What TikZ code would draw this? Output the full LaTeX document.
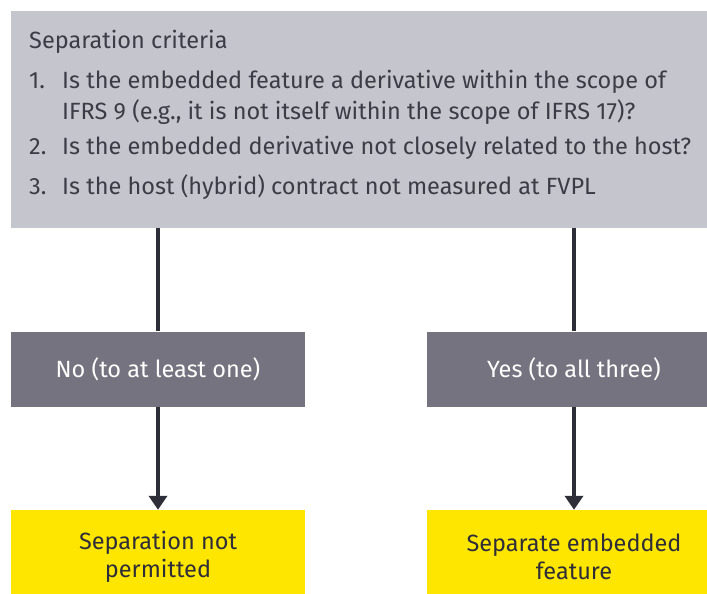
\documentclass[tikz,border=0pt]{standalone}
\usepackage{fontspec}
\setmainfont{Fira Sans}
\usetikzlibrary{arrows.meta}

\definecolor{critgray}{HTML}{C5C5CD}
\definecolor{answergray}{HTML}{74737F}
\definecolor{eyyellow}{HTML}{FFE600}
\definecolor{inkdark}{HTML}{2E2E38}
\definecolor{textdark}{HTML}{3C3C46}

\begin{document}
\begin{tikzpicture}[x=1pt,y=1pt,
  box/.style={minimum width=294pt,minimum height=75pt,inner sep=0pt,align=center,
    font=\fontsize{23.5}{28}\selectfont},
  answer/.style={box,fill=answergray,text=white},
  result/.style={box,fill=eyyellow,text=inkdark,minimum height=94pt},
  link/.style={draw=inkdark,line width=3.5pt},
  tip/.style={-{Triangle[width=18pt,length=14pt]}}]
\useasboundingbox (0,0) rectangle (707,-594);
\clip (0,0) rectangle (707,-594);
\node [fill=critgray,minimum width=710pt,minimum height=217pt,inner sep=0pt,anchor=north west] (crit) at (11,-11) {};
\node [anchor=north west,inner sep=0pt,align=left,text=textdark,font=\fontsize{23.5}{31}\selectfont] (list) at (29,-30) {Separation criteria\\[9pt]
\makebox[33pt][l]{1.}Is the embedded feature a derivative within the scope of\\
\hspace*{33pt}IFRS 9 (e.g., it is not itself within the scope of IFRS 17)?\\[4pt]
\makebox[33pt][l]{2.}Is the embedded derivative not closely related to the host?\\[9pt]
\makebox[33pt][l]{3.}Is the host (hybrid) contract not measured at FVPL};
\node [answer] (no) at (158,-369) {No (to at least one)};
\node [answer,right of=no,node distance=416pt] (yes) {Yes (to all three)};
\node [result,below of=no,node distance=188pt] (stop) {Separation not\\permitted};
\node [result,below of=yes,node distance=188pt] (split) {Separate embedded\\feature};
\draw [link] (crit.south -| no) -- (no);
\draw [link] (crit.south -| yes) -- (yes);
\draw [link,tip] (no) -- (stop);
\draw [link,tip] (yes) -- (split);
\end{tikzpicture}
\end{document}
